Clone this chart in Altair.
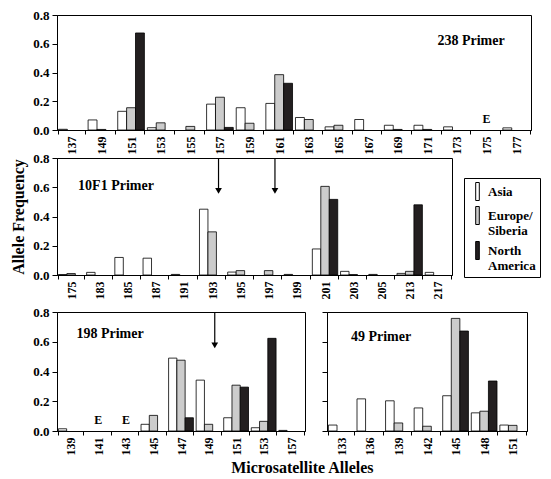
import altair as alt
import pandas as pd

FONT = "Liberation Serif"

regions = ["Asia", "Europe/Siberia", "North America"]
region_colors = ["#ffffff", "#cccccc", "#231f20"]

# ---- 238 Primer ----
p238_alleles = ["137", "149", "151", "153", "155", "157", "159", "161",
                "163", "165", "167", "169", "171", "173", "175", "177"]
p238_asia = [0.005, 0.07, 0.13, 0.016, 0, 0.18, 0.155, 0.185,
             0.087, 0.022, 0.073, 0.033, 0.033, 0.022, 0, 0.015]
p238_europe = [0, 0.004, 0.155, 0.05, 0.025, 0.228, 0.047, 0.385,
               0.073, 0.033, 0, 0.004, 0.004, 0, 0, 0]
p238_namerica = [0, 0, 0.675, 0, 0, 0.018, 0, 0.325,
                 0, 0, 0, 0, 0, 0, 0, 0]
p238_e = ["175"]

# ---- 10F1 Primer ----
p10f1_alleles = ["175", "183", "185", "187", "191", "193", "195", "197",
                 "199", "201", "203", "205", "213", "217"]
p10f1_asia = [0.003, 0.018, 0.12, 0.115, 0.004, 0.45, 0.02, 0,
              0.004, 0.178, 0.025, 0.004, 0.011, 0.018]
p10f1_europe = [0.01, 0, 0, 0, 0, 0.295, 0.03, 0.03,
                0, 0.606, 0.003, 0, 0.025, 0]
p10f1_namerica = [0, 0, 0, 0, 0, 0, 0, 0,
                  0, 0.517, 0, 0, 0.48, 0]
p10f1_arrows = ["193", "197"]

# ---- 198 Primer ----
p198_alleles = ["139", "141", "143", "145", "147", "149", "151", "153", "157"]
p198_asia = [0.015, 0, 0, 0.045, 0.49, 0.342, 0.089, 0.022, 0.004]
p198_europe = [0, 0, 0, 0.105, 0.476, 0.045, 0.308, 0.065, 0]
p198_namerica = [0, 0, 0, 0, 0.089, 0, 0.295, 0.623, 0]
p198_e = ["141", "143"]
p198_arrows = ["149"]

# ---- 49 Primer ----
p49_alleles = ["133", "136", "139", "142", "145", "148", "151"]
p49_asia = [0.04, 0.216, 0.203, 0.155, 0.237, 0.122, 0.04]
p49_europe = [0, 0, 0.054, 0.032, 0.757, 0.133, 0.038]
p49_namerica = [0, 0, 0, 0, 0.672, 0.336, 0]

y_ticks = [0, 0.2, 0.4, 0.6, 0.8]
y_domain = [0, 0.8]


def long_df(alleles, asia, europe, namerica):
    rows = []
    for vals, reg in zip([asia, europe, namerica], regions):
        for a, v in zip(alleles, vals):
            if v > 0:
                rows.append({"allele": a, "region": reg, "freq": v})
    return pd.DataFrame(rows)


legend = alt.Legend(
    title=None, orient="none", legendX=407, legendY=163, direction="vertical",
    strokeColor="black", fillColor="white", padding=4, rowPadding=1,
    symbolType="M-0.2,-1H0.2V1H-0.2Z", symbolSize=324,
    symbolStrokeColor="black", symbolStrokeWidth=1,
    labelFont=FONT, labelFontSize=13, labelFontWeight="bold", labelColor="black",
    labelOffset=1, labelLimit=200,
    labelExpr="datum.label == 'Europe/Siberia' ? ['Europe/', 'Siberia'] : "
              "datum.label == 'North America' ? ['North', 'America'] : datum.label",
)


def panel(alleles, asia, europe, namerica, width, height, label, lx, ly,
          ylabels=True, ytitle=None, ytitle_opacity=0.0, e_alleles=None, arrows=None):
    df = long_df(alleles, asia, europe, namerica)
    xscale = alt.Scale(domain=alleles, paddingInner=0.1, paddingOuter=0.05)
    yscale = alt.Scale(domain=y_domain)
    xaxis = alt.Axis(title=None, labelAngle=-90, tickBand="extent", tickSize=4,
                     labelFontSize=12, labelPadding=2, labelAlign="right",
                     labelBaseline="middle", grid=False)
    yaxis_kw = dict(values=y_ticks, format=".1f", labels=ylabels, tickSize=5,
                    labelFontSize=13, labelPadding=3, grid=False)
    if ytitle:
        yaxis_kw.update(title=ytitle, titleOpacity=ytitle_opacity, titleFontSize=16,
                        titlePadding=6)
    else:
        yaxis_kw.update(title=None)
    yaxis = alt.Axis(**yaxis_kw)
    bars = alt.Chart(df).mark_bar(stroke="black", strokeWidth=0.8).encode(
        x=alt.X("allele:N", scale=xscale, axis=xaxis),
        xOffset=alt.XOffset("region:N", scale=alt.Scale(domain=regions, paddingInner=0, paddingOuter=0)),
        y=alt.Y("freq:Q", scale=yscale, axis=yaxis),
        color=alt.Color("region:N", scale=alt.Scale(domain=regions, range=region_colors), legend=legend),
    )
    layers = [bars]
    tdf = pd.DataFrame({"t": [label]})
    layers.append(alt.Chart(tdf).mark_text(font=FONT, fontWeight="bold", fontSize=14,
                                           align="center", baseline="middle", color="black").encode(
        text="t:N", x=alt.value(lx), y=alt.value(ly)))
    if e_alleles:
        edf = pd.DataFrame({"allele": e_alleles, "freq": [0.0] * len(e_alleles), "t": ["E"] * len(e_alleles)})
        layers.append(alt.Chart(edf).mark_text(font=FONT, fontWeight="bold", fontSize=12,
                                               baseline="bottom", dy=-4, color="black").encode(
            x=alt.X("allele:N", scale=xscale, axis=xaxis),
            y=alt.Y("freq:Q", scale=yscale, axis=yaxis),
            text="t:N"))
    if arrows:
        adf = pd.DataFrame({"allele": arrows, "freq": [0.8] * len(arrows), "tip": [0.575] * len(arrows)})
        layers.append(alt.Chart(adf).mark_rule(color="black", strokeWidth=1.2).encode(
            x=alt.X("allele:N", scale=xscale, axis=xaxis, bandPosition=0.75),
            y=alt.Y("freq:Q", scale=yscale, axis=yaxis),
            y2="tip:Q"))
        layers.append(alt.Chart(adf).mark_point(shape="triangle-down", filled=True, color="black",
                                                size=45, opacity=1).encode(
            x=alt.X("allele:N", scale=xscale, axis=xaxis, bandPosition=0.75),
            y=alt.Y("tip:Q", scale=yscale, axis=yaxis)))
    return alt.layer(*layers).properties(width=width, height=height)


top = panel(p238_alleles, p238_asia, p238_europe, p238_namerica, 474, 115,
            "238 Primer", 414, 26, ytitle="Allele Frequency", ytitle_opacity=0.0,
            e_alleles=p238_e)
mid = panel(p10f1_alleles, p10f1_asia, p10f1_europe, p10f1_namerica, 395, 117,
            "10F1 Primer", 59, 28, ytitle="Allele Frequency", ytitle_opacity=1.0,
            arrows=p10f1_arrows)
bl = panel(p198_alleles, p198_asia, p198_europe, p198_namerica, 248, 119,
           "198 Primer", 53, 22, ytitle="Allele Frequency", ytitle_opacity=0.0,
           e_alleles=p198_e, arrows=p198_arrows)
br = panel(p49_alleles, p49_asia, p49_europe, p49_namerica, 200, 119,
           "49 Primer", 54, 25, ylabels=False)

indep = dict(x="independent", xOffset="independent", y="independent")
bottom = alt.hconcat(bl, br, spacing=14).resolve_scale(**indep)
upper = alt.vconcat(top, mid, spacing=-4).resolve_scale(**indep)

chart = alt.vconcat(upper, bottom, spacing=5).resolve_scale(**indep).properties(
    title=alt.TitleParams("Microsatellite Alleles", orient="bottom", anchor="middle",
                          font=FONT, fontSize=16, fontWeight="bold", color="black", dx=27, offset=4),
    padding={"left": 2, "top": 0, "right": 2, "bottom": 2},
).configure_view(stroke="black", strokeWidth=1).configure_axis(
    domainColor="black", tickColor="black", labelColor="black", titleColor="black",
    labelFont=FONT, titleFont=FONT, labelFontWeight="bold", titleFontWeight="bold",
    domainWidth=1, tickWidth=1
)

chart.save("out.html", embed_options={"renderer": "svg", "actions": False})
